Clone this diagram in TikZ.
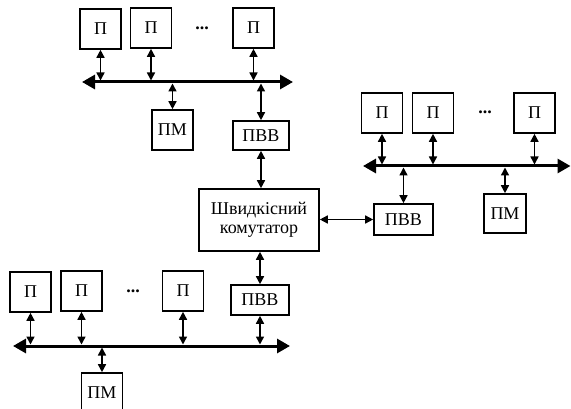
\documentclass[tikz,border=0pt]{standalone}
\usepackage{fontspec}
\setmainfont{Liberation Serif}
\usetikzlibrary{arrows.meta}
\tikzset{
  blk/.style={draw, line width=1.6pt, inner sep=0pt, minimum width=41pt, minimum height=40pt, font=\fontsize{18}{20}\selectfont},
  bus/.style={line width=3pt, {Triangle[length=13pt,width=14pt]}-{Triangle[length=13pt,width=14pt]}},
  lnk/.style={line width=1.5pt, {Triangle[length=8pt,width=8pt]}-{Triangle[length=8pt,width=8pt]}},
  dotsn/.style={font=\fontsize{18}{20}\selectfont\bfseries}
}
\begin{document}
\begin{tikzpicture}[x=1pt,y=-1pt]
\useasboundingbox (0,0) rectangle (571,409);
% ---------- top group ----------
\node[blk] (tp1) at (100.5,29) {П};
\node[blk] (tp2) at (151,28) {П};
\node[blk] (tp3) at (253.5,28) {П};
\node[dotsn] (tdots) at (202,28) {...};
\coordinate (tbl) at (82,82);
\coordinate (tbr) at (293,82);
\draw[bus] (tbl) -- (tbr);
\node[blk] (tpm) at (172.5,130) {ПМ};
\node[blk, minimum width=56pt, minimum height=29pt] (tpvv) at (261,135.5) {ПВВ};
\coordinate (tj1) at (tp1 |- tbl);
\coordinate (tj2) at (tp2 |- tbl);
\coordinate (tj3) at (tp3 |- tbl);
\coordinate (tj4) at (tpm |- tbl);
\coordinate (tj5) at (tpvv |- tbl);
\draw[lnk, shorten >=1.5pt] (tp1) -- (tj1);
\draw[lnk, shorten >=1.5pt] (tp2) -- (tj2);
\draw[lnk, shorten >=1.5pt] (tp3) -- (tj3);
\draw[lnk, shorten >=1.5pt] (tpm) -- (tj4);
\draw[lnk, shorten >=1.5pt] (tpvv) -- (tj5);
% ---------- switch ----------
\node[blk, minimum width=120pt, minimum height=62pt, align=center] (sw) at (259,220)
  {Швидкісний\\[-1pt]комутатор};
\draw[lnk] (tpvv.south) -- (tpvv.south |- sw.north);
% ---------- right group ----------
\node[blk] (rp1) at (382,113) {П};
\node[blk] (rp2) at (433,113) {П};
\node[blk] (rp3) at (534.5,113) {П};
\node[dotsn] (rdots) at (485,112) {...};
\coordinate (rbl) at (363,166);
\coordinate (rbr) at (570.5,166);
\draw[bus] (rbl) -- (rbr);
\node[blk, minimum width=59pt, minimum height=31pt] (rpvv) at (403.5,219.5) {ПВВ};
\node[blk, minimum width=42pt, minimum height=39pt] (rpm) at (505,213.5) {ПМ};
\coordinate (rj1) at (rp1 |- rbl);
\coordinate (rj2) at (rp2 |- rbl);
\coordinate (rj3) at (rp3 |- rbl);
\coordinate (rj4) at (rpvv |- rbl);
\coordinate (rj5) at (rpm |- rbl);
\draw[lnk, shorten >=1.5pt] (rp1) -- (rj1);
\draw[lnk, shorten >=1.5pt] (rp2) -- (rj2);
\draw[lnk, shorten >=1.5pt] (rp3) -- (rj3);
\draw[lnk, shorten >=1.5pt] (rpvv) -- (rj4);
\draw[lnk, shorten >=1.5pt] (rpm) -- (rj5);
\draw[lnk] (rpvv.west -| sw.east) -- (rpvv.west);
% ---------- bottom group ----------
\node[blk, minimum width=58pt, minimum height=30pt] (bpvv) at (260,300) {ПВВ};
\draw[lnk] (bpvv.north |- sw.south) -- (bpvv.north);
\node[blk] (bp1) at (30.5,292) {П};
\node[blk] (bp2) at (81.5,291) {П};
\node[blk] (bp3) at (183,291) {П};
\node[dotsn] (bdots) at (133,291) {...};
\coordinate (bbl) at (13,346);
\coordinate (bbr) at (290,346);
\draw[bus] (bbl) -- (bbr);
\node[blk] (bpm) at (102,393) {ПМ};
\coordinate (bj1) at (bp1 |- bbl);
\coordinate (bj2) at (bp2 |- bbl);
\coordinate (bj3) at (bp3 |- bbl);
\coordinate (bj4) at (bpvv |- bbl);
\coordinate (bj5) at (bpm |- bbl);
\draw[lnk, shorten >=1.5pt] (bp1) -- (bj1);
\draw[lnk, shorten >=1.5pt] (bp2) -- (bj2);
\draw[lnk, shorten >=1.5pt] (bp3) -- (bj3);
\draw[lnk, shorten >=1.5pt] (bpvv) -- (bj4);
\draw[lnk, shorten >=1.5pt] (bpm) -- (bj5);
\end{tikzpicture}
\end{document}
